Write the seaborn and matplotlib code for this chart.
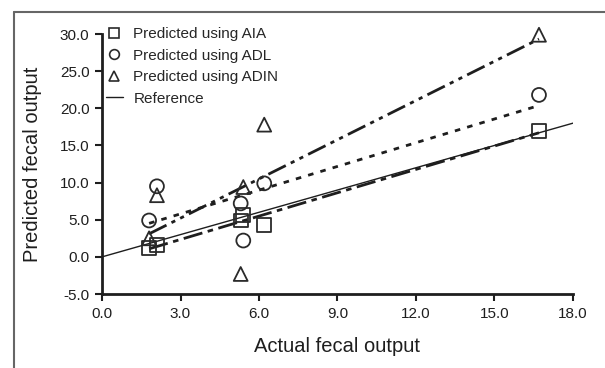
import numpy as np
import pandas as pd
import matplotlib
matplotlib.use("Agg")
import matplotlib.pyplot as plt
from matplotlib.lines import Line2D
import seaborn as sns

# data
actual = [1.8, 2.1, 5.3, 5.4, 6.2, 16.7]
pred_aia = [1.2, 1.6, 4.9, 5.6, 4.3, 16.9]
pred_adl = [4.9, 9.5, 7.2, 2.2, 9.9, 21.8]
pred_adin = [2.5, 8.3, -2.3, 9.4, 17.8, 29.9]
ref_x = [0.0, 18.0]
ref_y = [0.0, 18.0]

series = [
    ("Predicted using AIA", pred_aia, "s", (7, 2, 2, 2)),
    ("Predicted using ADL", pred_adl, "o", (2, 2.6)),
    ("Predicted using ADIN", pred_adin, "^", (7, 2, 1.5, 2, 1.5, 2)),
]

sns.set_style("ticks")
plt.rcParams["font.family"] = ["Liberation Sans", "DejaVu Sans"]

fig = plt.figure(figsize=(6.05, 3.68), dpi=100)
ax = fig.add_axes([0.1686, 0.201, 0.7785, 0.7066])

ink = "#1e1e1e"
handles = []
for label, yv, mk, dash in series:
    df = pd.DataFrame({"x": actual, "y": yv})
    sns.regplot(data=df, x="x", y="y", ax=ax, ci=None, scatter=False, truncate=True,
                line_kws={"color": ink, "lw": 2.0, "dashes": dash})
    sns.scatterplot(data=df, x="x", y="y", ax=ax, marker=mk, s=100,
                    facecolor="none", edgecolor="#2a2a2a", linewidth=1.3,
                    zorder=5, clip_on=False)
    handles.append(Line2D([], [], ls="none", marker=mk, markersize=7,
                          markerfacecolor="none", markeredgecolor="#2a2a2a",
                          markeredgewidth=1.2, label=label))

sns.lineplot(x=ref_x, y=ref_y, ax=ax, color=ink, lw=1.0)
handles.append(Line2D([], [], color=ink, lw=1.0, label="Reference"))

ax.set_xlim(0, 18)
ax.set_ylim(-5, 30)
ax.set_xticks(np.arange(0, 18.1, 3))
ax.set_yticks(np.arange(-5, 30.1, 5))
ax.set_xticklabels([f"{v:.1f}" for v in np.arange(0, 18.1, 3)])
ax.set_yticklabels([f"{v:.1f}" for v in np.arange(-5, 30.1, 5)])
ax.tick_params(direction="out", length=5, width=1.5, labelsize=11, colors=ink, pad=4)
for s in ["left", "bottom"]:
    ax.spines[s].set_linewidth(2.0)
    ax.spines[s].set_color(ink)
sns.despine(ax=ax)

ax.set_xlabel("Actual fecal output", fontsize=14.5, color=ink, labelpad=12)
ax.set_ylabel("Predicted fecal output", fontsize=14.5, color=ink, labelpad=13)

fig.legend(handles=handles, loc="upper left", bbox_to_anchor=(0.175, 0.927),
           frameon=False, fontsize=11, handlelength=1.1, handletextpad=0.7,
           labelspacing=0.5, borderpad=0, borderaxespad=0)

# thin frame around the figure (top and left edges visible)
fig.add_artist(Line2D([0.023, 1.0], [0.967, 0.967], color="#666666", lw=1.5,
                      transform=fig.transFigure))
fig.add_artist(Line2D([0.023, 0.023], [0.0, 0.967], color="#666666", lw=1.5,
                      transform=fig.transFigure))

fig.savefig("out.png", dpi=100)
